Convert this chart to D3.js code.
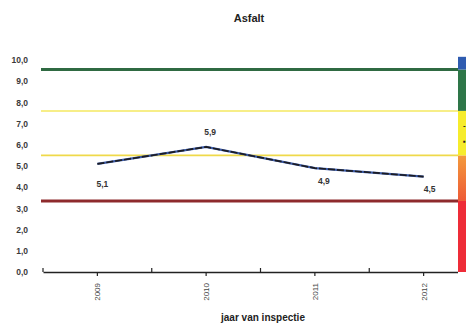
<!DOCTYPE html>
<html>
<head>
<meta charset="utf-8">
<script src="https://cdn.jsdelivr.net/npm/d3@7"></script>
<style>
  html, body { margin: 0; padding: 0; background: #fff; }
  svg { display: block; }
  text { font-family: "Liberation Sans", Arial, sans-serif; }
</style>
</head>
<body>
<svg id="chart" width="466" height="324"></svg>
<script>
// Inspection scores for asphalt per year
const years = ["2009", "2010", "2011", "2012"];
const scores = [5.1, 5.9, 4.9, 4.5];
const scoreLabels = ["5,1", "5,9", "4,9", "4,5"];
const yTicks = [0, 1, 2, 3, 4, 5, 6, 7, 8, 9, 10];

// Horizontal norm lines
const normValues = [9.55, 7.6, 5.5, 3.35];
const normColors = ["#2f6a42", "#f4e860", "#efd94a", "#8e2a2c"];
const normWidths = [3, 1.5, 1.6, 3];

// Rating colour bar on the right edge
const bandEdges = [0, 3.35, 5.5, 7.6, 9.55, 10.15];
const bandColors = ["#ee2c38", "url(#orangeGrad)", "#f6ec2c", "#2e7648", "#2f5cb0"];

const svg = d3.select("#chart");
const plot = { left: 43, right: 478, top: 60, bottom: 272 };
const clipRight = 458;

const x = d3.scaleBand().domain(years).range([plot.left, plot.right]).padding(0);
const y = d3.scaleLinear().domain([0, 10]).range([plot.bottom, plot.top]);

const defs = svg.append("defs");
defs.append("clipPath").attr("id", "plotClip")
  .append("rect").attr("x", 0).attr("y", 0).attr("width", clipRight).attr("height", 324);
const grad = defs.append("linearGradient").attr("id", "orangeGrad")
  .attr("x1", 0).attr("y1", 0).attr("x2", 0).attr("y2", 1);
grad.append("stop").attr("offset", "0%").attr("stop-color", "#f39a3c");
grad.append("stop").attr("offset", "100%").attr("stop-color", "#ee5a36");

// Title
svg.append("text")
  .attr("x", 249).attr("y", 22)
  .attr("text-anchor", "middle")
  .attr("font-size", 11).attr("font-weight", "bold").attr("fill", "#222")
  .text("Asfalt");

// Y tick labels (no axis line)
const yAxis = d3.axisLeft(y).tickValues(yTicks).tickSize(0)
  .tickFormat(d => d3.format(".1f")(d).replace(".", ","));
const yg = svg.append("g").attr("transform", `translate(${plot.left - 12},0)`).call(yAxis);
yg.select(".domain").remove();
yg.selectAll("text").attr("font-size", 8.5).attr("font-weight", "bold").attr("fill", "#3a3a3a")
  .attr("font-family", "'Liberation Sans', Arial, sans-serif");

// Norm lines
const g = svg.append("g").attr("clip-path", "url(#plotClip)");
g.selectAll("line.norm").data(normValues).join("line")
  .attr("class", "norm")
  .attr("x1", plot.left - 2).attr("x2", plot.right)
  .attr("y1", d => y(d)).attr("y2", d => y(d))
  .attr("stroke", (d, i) => normColors[i])
  .attr("stroke-width", (d, i) => normWidths[i]);

// X axis
const xAxis = d3.axisBottom(x).tickSize(4).tickSizeOuter(0).tickFormat("");
const xg = g.append("g").attr("transform", `translate(0,${plot.bottom})`).call(xAxis);
xg.select(".domain").attr("stroke", "#222").attr("stroke-width", 1.3);
xg.selectAll(".tick line").attr("stroke", "#222").attr("stroke-width", 1.2);
// boundary ticks between categories
const boundaries = years.map(d => x(d));
g.selectAll("line.bound").data(boundaries).join("line")
  .attr("class", "bound")
  .attr("x1", d => d).attr("x2", d => d)
  .attr("y1", plot.bottom).attr("y2", plot.bottom - 4)
  .attr("stroke", "#222").attr("stroke-width", 1.2);

// Rotated year labels
svg.selectAll("text.year").data(years).join("text")
  .attr("class", "year")
  .attr("transform", d => `translate(${x(d) + x.bandwidth() / 2 + 3},${plot.bottom + 11}) rotate(-90)`)
  .attr("text-anchor", "end")
  .attr("font-size", 8).attr("fill", "#444")
  .text(d => d);

// Axis title
svg.append("text")
  .attr("x", 263).attr("y", 321)
  .attr("text-anchor", "middle")
  .attr("font-size", 10).attr("font-weight", 600).attr("fill", "#222")
  .text("jaar van inspectie");

// Score line
const line = d3.line()
  .x((d, i) => x(years[i]) + x.bandwidth() / 2)
  .y(d => y(d));
g.append("path").datum(scores)
  .attr("d", line)
  .attr("fill", "none")
  .attr("stroke", "#3a5aa8").attr("stroke-width", 2.4);
g.append("path").datum(scores)
  .attr("d", line)
  .attr("fill", "none")
  .attr("stroke", "#1c1c22").attr("stroke-width", 1.7)
  .attr("stroke-dasharray", "7,2");

// Value labels
const labelDy = [20, -15, 13, 12];
const labelDx = [5, 4, 9, 6];
svg.selectAll("text.val").data(scores).join("text")
  .attr("class", "val")
  .attr("x", (d, i) => x(years[i]) + x.bandwidth() / 2 + labelDx[i])
  .attr("y", (d, i) => y(d) + labelDy[i] + 3)
  .attr("text-anchor", "middle")
  .attr("font-size", 8.5).attr("font-weight", "bold").attr("fill", "#333")
  .text((d, i) => scoreLabels[i]);

// Colour bar
const bands = bandColors.map((c, i) => ({ lo: bandEdges[i], hi: bandEdges[i + 1], c }));
svg.selectAll("rect.band").data(bands).join("rect")
  .attr("class", "band")
  .attr("x", clipRight).attr("width", 12)
  .attr("y", d => y(d.hi))
  .attr("height", d => y(d.lo) - y(d.hi))
  .attr("fill", d => d.c);
// partial legend text marks inside the yellow band
svg.append("text").attr("x", 463).attr("y", y(6.8)).attr("font-size", 8).attr("font-weight", "bold")
  .attr("fill", "#222").text("-");
svg.append("text").attr("x", 463).attr("y", y(6.05)).attr("font-size", 8).attr("font-weight", "bold")
  .attr("fill", "#222").text("▪");
</script>
</body>
</html>
